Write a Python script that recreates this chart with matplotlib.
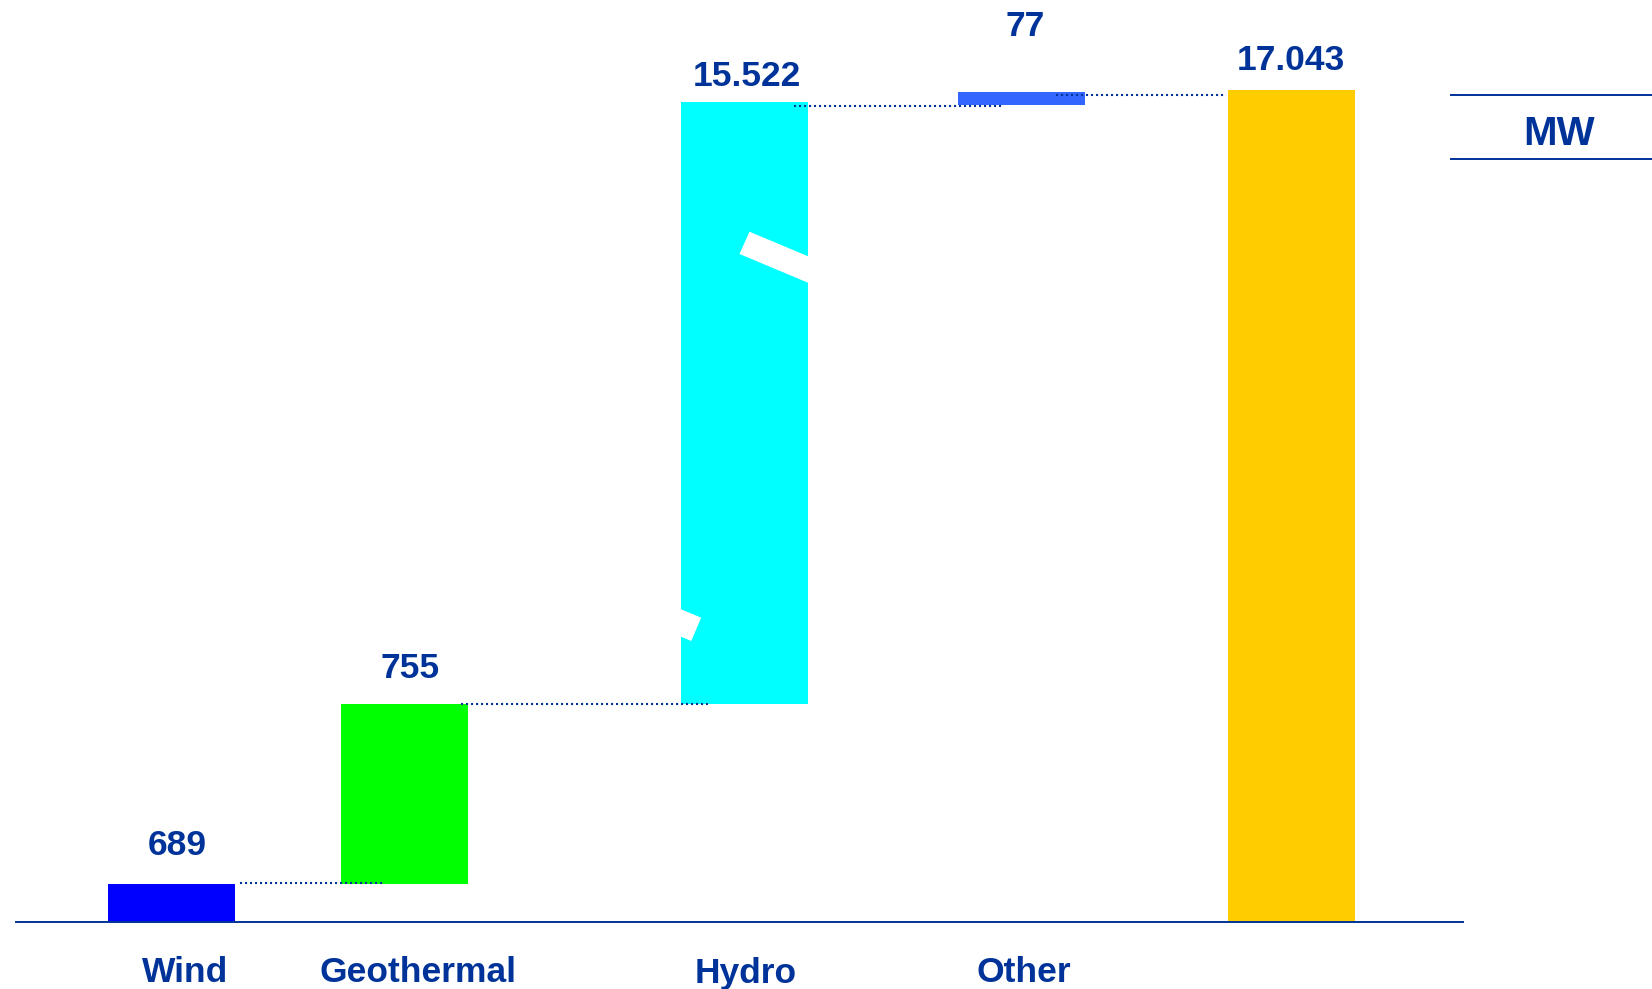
import numpy as np
import matplotlib.pyplot as plt
from matplotlib.patches import Polygon

# waterfall: the drawn heights are not to scale (hydro bar is "broken"),
# so heights are kept in drawing units
categories = ["Wind", "Geothermal", "Hydro", "Other", ""]
value_labels = ["689", "755", "15.522", "77", "17.043"]
bar_centers = [171.5, 404.5, 744, 1021, 1291.5]
bar_bottoms = [0, 38, 218, 817, 0]
bar_tops = [38, 218, 820, 830, 832]
bar_colors = ["#0000FF", "#00FF00", "#00FFFF", "#3366FF", "#FFCC00"]
unit_label = "MW"

BAR_W = 127
TXT = "#003399"
FONT = "Liberation Sans"

fig = plt.figure(figsize=(16.52, 9.89), dpi=100)
ax = fig.add_axes([0, 0, 1, 1])
ax.set_xlim(0, 1652)
ax.set_ylim(-67, 922)
ax.axis("off")

for xc, b, t, c in zip(bar_centers, bar_bottoms, bar_tops, bar_colors):
    ax.bar(xc, t - b, bottom=b, width=BAR_W, color=c, zorder=2, linewidth=0)

# dotted connectors between consecutive bars (start/end offsets from bar edges)
conn_start = [5, -7, -14, -29]
conn_end = [42, 27, 46, -3]
conn_y = [39, 218, 816, 827]
for i in range(4):
    x0 = bar_centers[i] + BAR_W / 2 + conn_start[i]
    x1 = bar_centers[i + 1] - BAR_W / 2 + conn_end[i]
    ax.plot([x0, x1], [conn_y[i], conn_y[i]], color=TXT, lw=1.5,
            ls=(0, (1, 1.4)), zorder=3)

# axis break marks on the hydro bar
hx = bar_centers[2] - BAR_W / 2
u = np.array([0.922, -0.387])
p1 = np.array([hx + 69, 690.3])
p2 = np.array([hx + 59, 668.0])
upper = [p1, p2, p2 + 110 * u, p1 + 110 * u]
q1 = np.array([hx + 20.7, 304.3])
q2 = np.array([hx + 10.7, 281.0])
lower = [q1, q2, q2 - 90 * u, q1 - 90 * u]
for poly in (upper, lower):
    ax.add_patch(Polygon(poly, closed=True, facecolor="white",
                         edgecolor="none", zorder=4))

# baseline
ax.plot([16, 1463], [0, 0], color=TXT, lw=1.4, zorder=3)

# value labels
label_dx = [6, 6, 3, 4, -1]
label_gap = [22, 19, 9, 49, 13]
for xc, t, lab, dx, g in zip(bar_centers, bar_tops, value_labels, label_dx, label_gap):
    ax.text(xc + dx, t + g, lab, ha="center", va="bottom", fontsize=25.5,
            fontweight="bold", color=TXT, family=FONT)

# category labels
cat_dx = [13.5, 13.5, 2, 3, 0]
for xc, cat, dx in zip(bar_centers, categories, cat_dx):
    if cat:
        ax.text(xc + dx, -51, cat, ha="center", va="center", fontsize=25.5,
                fontweight="bold", color=TXT, family=FONT)

# unit box
ax.plot([1451, 1652], [827, 827], color=TXT, lw=1.4)
ax.plot([1451, 1652], [763, 763], color=TXT, lw=1.4)
ax.text(1559, 788, unit_label, ha="center", va="center", fontsize=29,
        fontweight="bold", color=TXT, family=FONT)

fig.savefig("out.png", dpi=100, facecolor="white")
